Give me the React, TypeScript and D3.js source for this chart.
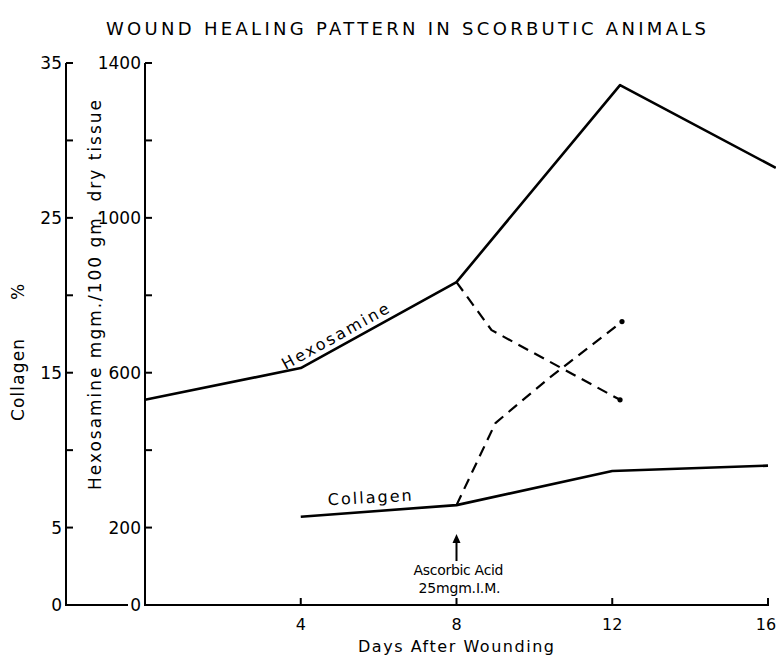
import * as d3 from "d3";

// days after wounding / readings taken off the figure
const hexDays = [0, 4, 8, 12.2, 16.2];
const hexValues = [530, 612, 834, 1343, 1129];
const colDays = [4, 8, 12, 16];
const colValues = [5.7, 6.45, 8.65, 9.0];
// after ascorbic acid (dashed)
const hexTreatedDays = [8, 8.9, 12.2];
const hexTreatedValues = [834, 710, 530];
const colTreatedDays = [8, 9, 10.4, 12.25];
const colTreatedValues = [6.45, 11.75, 14.7, 18.3];

const colTicks = [5, 10, 15, 20, 25, 30, 35];
const colLabels = [0, 5, 15, 25, 35];
const hexTicks = [200, 400, 600, 800, 1000, 1200, 1400];
const hexLabels = [0, 200, 600, 1000, 1400];
const dayTicks = [4, 8, 12, 16];

const W = 776;
const H = 660;
const font = "'DejaVu Sans', sans-serif";

export default function App() {
  const x = d3.scaleLinear().domain([0, 16]).range([145, 768]);
  const yHex = d3.scaleLinear().domain([0, 1400]).range([605, 63]);
  const yCol = d3.scaleLinear().domain([0, 35]).range([605, 63]);
  const colAxisX = 66;
  const hexAxisX = x(0);
  const base = yHex(0);

  const line = (days: number[], vals: number[], y: d3.ScaleLinear<number, number>) =>
    d3
      .line<number>()
      .x((_, i) => x(days[i]))
      .y((v) => y(v))(vals) as string;

  const lastHexT = hexTreatedValues.length - 1;
  const lastColT = colTreatedValues.length - 1;

  return (
    <svg
      width={W}
      height={H}
      style={{ position: "absolute", left: 0, top: 0, background: "#fff" }}
      fontFamily={font}
    >
      <text
        x={406}
        y={35}
        textAnchor="middle"
        fontSize={18}
        textLength={600}
        lengthAdjust="spacing"
      >
        WOUND HEALING PATTERN IN SCORBUTIC ANIMALS
      </text>

      {/* collagen axis */}
      <g stroke="#000" strokeWidth={2} fill="none">
        <path d={`M${colAxisX},${yCol(35)}V${base}H${hexAxisX - 17}`} />
        {colTicks.map((t) => (
          <line key={t} x1={colAxisX} x2={colAxisX + 7} y1={yCol(t)} y2={yCol(t)} />
        ))}
      </g>
      {colLabels.map((t) => (
        <text key={t} x={colAxisX - 4} y={yCol(t) + 6} textAnchor="end" fontSize={17}>
          {t}
        </text>
      ))}

      {/* hexosamine axis + x axis */}
      <g stroke="#000" strokeWidth={2} fill="none">
        <path d={`M${hexAxisX},${yHex(1400)}V${base}H${x(16)}V${base - 7}`} />
        {hexTicks.map((t) => (
          <line key={t} x1={hexAxisX} x2={hexAxisX + 7} y1={yHex(t)} y2={yHex(t)} />
        ))}
        {dayTicks.map((d) => (
          <line key={d} x1={x(d)} x2={x(d)} y1={base} y2={base - 7} />
        ))}
      </g>
      {hexLabels.map((t) => (
        <text key={t} x={hexAxisX - 4} y={yHex(t) + 6} textAnchor="end" fontSize={17}>
          {t}
        </text>
      ))}
      {dayTicks.map((d) => (
        <text
          key={d}
          x={d === 16 ? x(d) - 2 : x(d)}
          y={base + 25}
          textAnchor="middle"
          fontSize={16}
        >
          {d}
        </text>
      ))}
      <text x={456} y={652} textAnchor="middle" fontSize={16} textLength={196} lengthAdjust="spacing">
        Days After Wounding
      </text>

      {/* axis titles */}
      <g transform="translate(24,0) rotate(-90)">
        <text x={-380} y={0} textAnchor="middle" fontSize={17} textLength={82} lengthAdjust="spacing">
          Collagen
        </text>
        <text x={-292} y={0} textAnchor="middle" fontSize={17}>
          %
        </text>
      </g>
      <text
        transform={`translate(101,295) rotate(-90)`}
        textAnchor="middle"
        fontSize={17}
        textLength={390}
        lengthAdjust="spacing"
      >
        Hexosamine mgm./100 gm. dry tissue
      </text>

      {/* data lines */}
      <g fill="none" stroke="#000" strokeLinejoin="round">
        <path d={line(hexDays, hexValues, yHex)} strokeWidth={2.6} />
        <path d={line(colDays, colValues, yCol)} strokeWidth={2.6} />
        <path d={line(hexTreatedDays, hexTreatedValues, yHex)} strokeWidth={2.2} strokeDasharray="11 7" />
        <path d={line(colTreatedDays, colTreatedValues, yCol)} strokeWidth={2.2} strokeDasharray="11 7" />
      </g>
      <circle cx={x(hexTreatedDays[lastHexT])} cy={yHex(hexTreatedValues[lastHexT])} r={2.6} />
      <circle cx={x(colTreatedDays[lastColT])} cy={yCol(colTreatedValues[lastColT])} r={2.6} />

      {/* series labels */}
      <text
        transform="translate(338,341) rotate(-29)"
        textAnchor="middle"
        fontSize={16}
        textLength={120}
        lengthAdjust="spacing"
      >
        Hexosamine
      </text>
      <text
        transform="translate(370,503) rotate(-3)"
        textAnchor="middle"
        fontSize={16}
        textLength={84}
        lengthAdjust="spacing"
      >
        Collagen
      </text>

      {/* ascorbic acid arrow */}
      <line x1={x(8)} x2={x(8)} y1={561} y2={540} stroke="#000" strokeWidth={2} />
      <path d={`M${x(8)},${534}l-4,9h8z`} fill="#000" />
      <text x={x(8) + 2} y={575} textAnchor="middle" fontSize={14} textLength={90} lengthAdjust="spacing">
        Ascorbic Acid
      </text>
      <text x={x(8) + 3} y={593} textAnchor="middle" fontSize={14} textLength={82} lengthAdjust="spacing">
        25mgm.I.M.
      </text>
    </svg>
  );
}
